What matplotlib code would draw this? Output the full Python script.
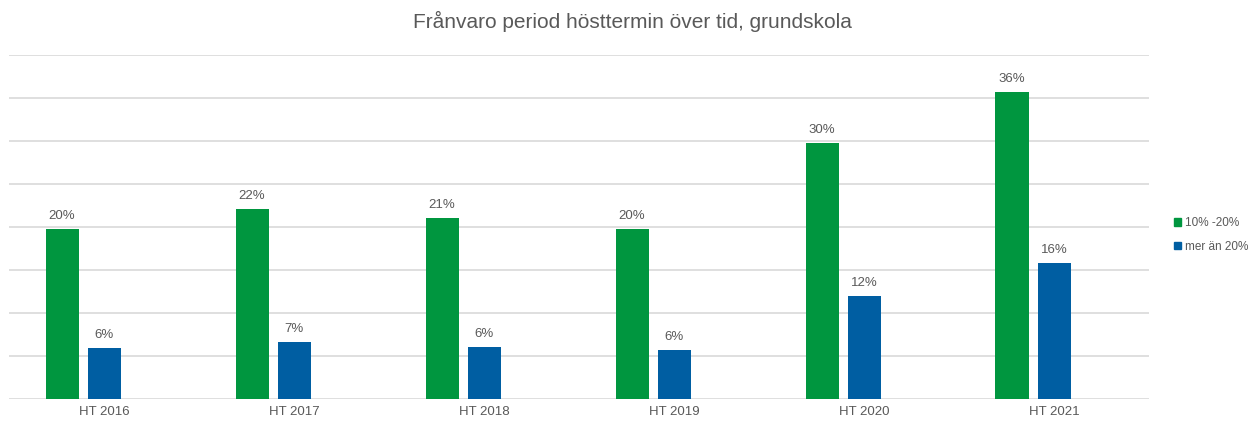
import matplotlib.pyplot as plt
from matplotlib.patches import Patch
import numpy as np

plt.rcParams.update({
    "font.family": ["Liberation Sans", "DejaVu Sans"],
    "font.size": 9.5,
    "text.color": "#595959",
})

# data (percent)
terms = ["HT 2016", "HT 2017", "HT 2018", "HT 2019", "HT 2020", "HT 2021"]
share_10_20 = [19.8, 22.1, 21.0, 19.8, 29.8, 35.7]
share_over_20 = [5.9, 6.6, 6.1, 5.7, 12.0, 15.8]
series_names = ["10% -20%", "mer än 20%"]

green = "#00963F"
blue = "#005EA2"
grid_col = "#D9D9D9"

fig = plt.figure(figsize=(12.57, 4.23), dpi=100)
ax = fig.add_axes([9 / 1257, 24 / 423, 1140 / 1257, 344 / 423])

x = np.arange(len(terms))
w = 33 / 190
step = 42 / 190

b1 = ax.bar(x - step, share_10_20, width=w, color=green)
b2 = ax.bar(x, share_over_20, width=w, color=blue)

ax.bar_label(b1, labels=[f"{v:.0f}%" for v in share_10_20], padding=5,
             fontsize=9.5, color="#595959")
ax.bar_label(b2, labels=[f"{v:.0f}%" for v in share_over_20], padding=5,
             fontsize=9.5, color="#595959")

ax.set_xlim(-0.5, len(terms) - 0.5)
ax.set_ylim(0, 40)
ax.set_yticks(np.arange(0, 41, 5))
ax.yaxis.grid(True, color=grid_col, linewidth=1.2)
ax.set_axisbelow(True)
ax.tick_params(axis="y", left=False, labelleft=False)
ax.set_xticks(x)
ax.set_xticklabels(terms)
ax.tick_params(axis="x", length=0, pad=5, labelsize=9.5, labelcolor="#595959")
for s in ax.spines.values():
    s.set_visible(False)

fig.suptitle("Frånvaro period hösttermin över tid, grundskola", x=0.503, y=0.975,
             fontsize=15, color="#595959")

handles = [Patch(color=green), Patch(color=blue)]
fig.legend(handles, series_names, loc="center left", bbox_to_anchor=(1163 / 1257, 0.445),
           frameon=False, handlelength=0.65, handleheight=0.65, handletextpad=0.3,
           labelspacing=1.0, fontsize=8.5, labelcolor="#595959")

fig.savefig("out.png", dpi=100)
